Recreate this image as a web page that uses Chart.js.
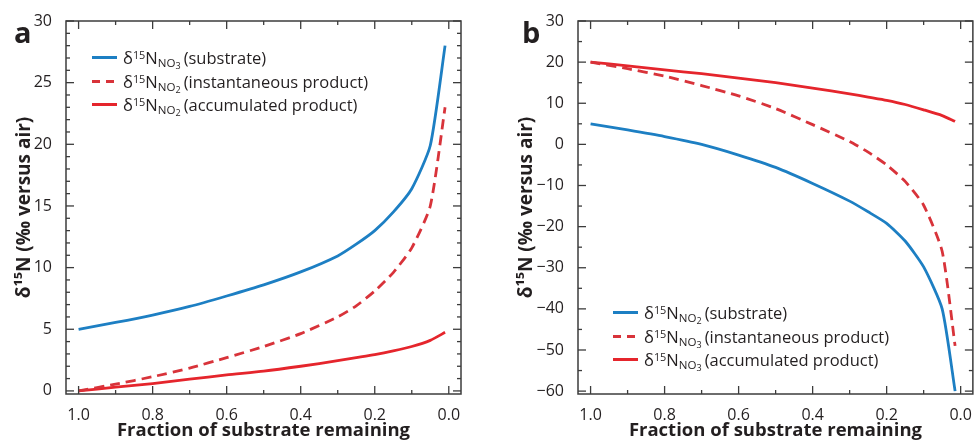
<!DOCTYPE html>
<html>
<head>
<meta charset="utf-8">
<script src="https://cdn.jsdelivr.net/npm/chart.js@4/dist/chart.umd.min.js"></script>
<style>
  body { margin: 0; background: #fff; font-family: 'Open Sans', sans-serif; color: #231f20; }
  #wrap { position: relative; width: 976px; height: 441px; overflow: hidden; }
  .panel { position: absolute; top: 0; width: 488px; height: 441px; }
  .legend { position: absolute; font-size: 16.5px; line-height: 23.5px; white-space: nowrap; }
  .row { display: flex; align-items: center; height: 23.5px; }
  .swatch { display: inline-block; width: 25px; height: 3px; margin-right: 6px; }
  .legend sup { font-size: 0.66em; vertical-align: 0.5em; line-height: 0; }
  .legend sub { font-size: 0.7em; vertical-align: -0.3em; line-height: 0; margin-right: 3px; }
  .legend sub sub { font-size: 0.78em; vertical-align: -0.25em; margin-right: 0; }
</style>
</head>
<body>
<div id="wrap">
  <div class="panel" style="left:0">
    <canvas id="chartA" width="488" height="441"></canvas>
    <div class="legend" id="legendA" style="left:92px; top:46px"></div>
  </div>
  <div class="panel" style="left:488px">
    <canvas id="chartB" width="488" height="441"></canvas>
    <div class="legend" id="legendB" style="left:125px; top:301px"></div>
  </div>
</div>
<script>
// panel a: nitrate reduction
const fractionA = [1.0, 0.9, 0.8, 0.7, 0.6, 0.5, 0.4, 0.3, 0.25, 0.2, 0.15, 0.1, 0.05, 0.01];
const substrateA = [5.0, 5.55, 6.15, 6.85, 7.7, 8.6, 9.65, 10.95, 11.9, 13.0, 14.5, 16.4, 19.9, 28.0];
const instantA = [0.0, 0.55, 1.15, 1.85, 2.7, 3.6, 4.65, 6.0, 6.9, 8.1, 9.6, 11.6, 15.0, 23.0];
const accumA = [0.0, 0.3, 0.6, 0.95, 1.3, 1.6, 2.0, 2.45, 2.7, 2.95, 3.25, 3.6, 4.1, 4.75];

// panel b: nitrite oxidation
const fractionB = [1.0, 0.9, 0.8, 0.7, 0.6, 0.5, 0.4, 0.3, 0.25, 0.2, 0.15, 0.1, 0.05, 0.015];
const substrateB = [5.0, 3.5, 1.9, 0.0, -2.6, -5.6, -9.5, -13.8, -16.4, -19.2, -23.5, -29.8, -40.0, -60.0];
const instantB = [20.0, 18.4, 16.6, 14.3, 11.8, 8.7, 4.8, 0.7, -1.9, -5.0, -9.0, -14.8, -26.0, -49.0];
const accumB = [20.0, 19.1, 18.1, 17.2, 16.1, 15.0, 13.7, 12.3, 11.5, 10.7, 9.7, 8.4, 7.0, 5.6];

const xTickLabels = [1.0, 0.8, 0.6, 0.4, 0.2, 0.0];
const xMinorTicks = [0.9, 0.7, 0.5, 0.3, 0.1];
const yTicksA = [0, 5, 10, 15, 20, 25, 30];
const yTicksB = [-60, -50, -40, -30, -20, -10, 0, 10, 20, 30];

const legendA = [
  'δ<sup>15</sup>N<sub>NO<sub>3</sub></sub>(substrate)',
  'δ<sup>15</sup>N<sub>NO<sub>2</sub></sub>(instantaneous product)',
  'δ<sup>15</sup>N<sub>NO<sub>2</sub></sub>(accumulated product)'
];
const legendB = [
  'δ<sup>15</sup>N<sub>NO<sub>2</sub></sub>(substrate)',
  'δ<sup>15</sup>N<sub>NO<sub>3</sub></sub>(instantaneous product)',
  'δ<sup>15</sup>N<sub>NO<sub>3</sub></sub>(accumulated product)'
];

const BLUE = '#1d7fc3';
const RED = '#e5252c';
const RED_DASH = '#d8333a';
const INK = '#231f20';
const FRAME = '#3c3c3c';

function pts(xs, ys) {
  return xs.map((x, i) => ({ x: x, y: ys[i] }));
}

// box round the plot, inward ticks on all four sides, panel letter
const frameTicks = {
  id: 'frameTicks',
  afterDraw(chart, args, opts) {
    const { ctx, chartArea: a } = chart;
    const x = chart.scales.x, y = chart.scales.y;
    ctx.save();
    ctx.strokeStyle = FRAME;
    ctx.lineWidth = 1.5;
    ctx.strokeRect(a.left, a.top, a.right - a.left, a.bottom - a.top);
    ctx.lineWidth = 1.3;
    const mark = (x1, y1, x2, y2) => { ctx.beginPath(); ctx.moveTo(x1, y1); ctx.lineTo(x2, y2); ctx.stroke(); };
    const xt = (v, len) => { const p = x.getPixelForValue(v); mark(p, a.bottom, p, a.bottom - len); mark(p, a.top, p, a.top + len); };
    const yt = (v, len) => { const p = y.getPixelForValue(v); mark(a.left, p, a.left + len, p); mark(a.right, p, a.right - len, p); };
    xTickLabels.forEach(v => xt(v, 8));
    xMinorTicks.forEach(v => xt(v, 4));
    opts.yMajor.forEach(v => yt(v, 8));
    for (let v = opts.yMajor[0]; v <= opts.yMajor[opts.yMajor.length - 1]; v += opts.yMinorStep) {
      if (!opts.yMajor.includes(v)) yt(v, 4);
    }
    ctx.fillStyle = INK;
    ctx.font = 'bold 29px "Open Sans"';
    ctx.textBaseline = 'alphabetic';
    ctx.fillText(opts.tag, opts.tagX, 43);
    ctx.restore();
  }
};

function fmt(v) {
  if (v < 0) return '\u2212' + Math.abs(v);
  return String(v);
}

function makeChart(id, fr, s, ip, ac, yTicks, yMin, yMax, yAxisWidth, titlePad, rightPad, tag, tagX, minorStep) {
  return new Chart(document.getElementById(id), {
    type: 'line',
    data: {
      datasets: [
        { data: pts(fr, s), borderColor: BLUE, borderWidth: 2.8 },
        { data: pts(fr, ip), borderColor: RED_DASH, borderWidth: 2.8, borderDash: [10, 6] },
        { data: pts(fr, ac), borderColor: RED, borderWidth: 2.8 }
      ]
    },
    options: {
      responsive: false,
      animation: false,
      layout: { padding: { top: 21, right: rightPad, left: 0, bottom: 0 } },
      elements: { point: { radius: 0 }, line: { tension: 0.2, borderCapStyle: 'butt' } },
      plugins: {
        legend: { display: false },
        tooltip: { enabled: false },
        frameTicks: { yMajor: yTicks, yMinorStep: minorStep, tag: tag, tagX: tagX }
      },
      scales: {
        x: {
          type: 'linear',
          reverse: true,
          min: -0.033,
          max: 1.034,
          afterBuildTicks: sc => { sc.ticks = xTickLabels.map(v => ({ value: v })); },
          afterFit: sc => { sc.height = 47; },
          grid: { display: false },
          border: { display: false },
          ticks: {
            padding: 4,
            color: INK,
            font: { family: 'Open Sans', size: 16 },
            callback: v => v.toFixed(1)
          },
          title: {
            display: true,
            text: 'Fraction of substrate remaining',
            color: INK,
            font: { family: 'Open Sans', size: 18.5, weight: 'bold' },
            padding: { top: 0, bottom: -1 }
          }
        },
        y: {
          type: 'linear',
          min: yMin,
          max: yMax,
          afterBuildTicks: sc => { sc.ticks = yTicks.map(v => ({ value: v })); },
          afterFit: sc => { sc.width = yAxisWidth; },
          grid: { display: false },
          border: { display: false },
          ticks: {
            padding: 6,
            color: INK,
            font: { family: 'Open Sans', size: 16 },
            callback: fmt
          },
          title: {
            display: true,
            text: 'δ¹⁵N (‰ versus air)',
            color: INK,
            font: { family: 'Open Sans', size: 19, weight: 'bold' },
            padding: { top: titlePad, bottom: 0 }
          }
        }
      }
    },
    plugins: [frameTicks]
  });
}

function fillLegend(elId, labels) {
  const styles = [
    'background:' + BLUE,
    'background:repeating-linear-gradient(90deg,' + RED_DASH + ' 0 8px, transparent 8px 14px)',
    'background:' + RED
  ];
  document.getElementById(elId).innerHTML = labels.map((t, i) =>
    '<div class="row"><span class="swatch" style="' + styles[i] + '"></span><span>' + t + '</span></div>'
  ).join('');
}

makeChart('chartA', fractionA, substrateA, instantA, accumA, yTicksA, -0.25, 30, 66, 13, 27, 'a', 14, 1);
makeChart('chartB', fractionB, substrateB, instantB, accumB, yTicksB, -60.7, 30, 90, 27, 3, 'b', 34, 5);
fillLegend('legendA', legendA);
fillLegend('legendB', legendB);
</script>
</body>
</html>
